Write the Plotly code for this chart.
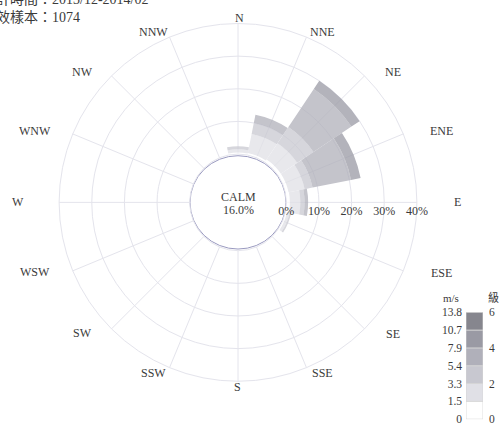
import plotly.graph_objects as go

W, H = 503, 431

# Wind directions (16 points) and wind-speed classes
directions = ['N', 'NNE', 'NE', 'ENE', 'E', 'ESE', 'SE', 'SSE',
              'S', 'SSW', 'SW', 'WSW', 'W', 'WNW', 'NW', 'NNW']
speed_edges = ['0', '1.5', '3.3', '5.4', '7.9', '10.7', '13.8']
beaufort_ticks = ['0', '2', '4', '6']
radial_ticks = [0, 10, 20, 30, 40]

# Frequency (%) of each speed class per direction
freq_00_15 = [0.5, 0.6, 1.0, 1.0, 1.1, 0.5, 0, 0, 0, 0, 0, 0, 0, 0, 0, 0]
freq_15_33 = [1.0, 6.0, 6.0, 5.0, 3.2, 0.8, 0, 0, 0, 0, 0, 0, 0, 0, 0, 0]
freq_33_54 = [0.9, 3.4, 6.0, 2.5, 1.3, 0.5, 0, 0, 0, 0, 0, 0, 0, 0, 0, 0]
freq_54_79 = [0, 2.6, 14.0, 12.0, 1.1, 0, 0, 0, 0, 0, 0, 0, 0, 0, 0, 0]
freq_79_107 = [0, 0, 3.0, 3.0, 0, 0, 0, 0, 0, 0, 0, 0, 0, 0, 0, 0]
freq_107_138 = [0, 0, 0, 0, 0, 0, 0, 0, 0, 0, 0, 0, 0, 0, 0, 0]
calm_pct = 16.0
sample_count = 1074
period = '2013/12-2014/02'

class_freqs = [freq_00_15, freq_15_33, freq_33_54, freq_54_79, freq_79_107, freq_107_138]
class_colors = ['#ffffff', '#e0e0e6', '#c8c8d0', '#b0b0ba', '#9a9aa4', '#86868e']

serif = 'Liberation Serif, Times New Roman, serif'
cjk = 'Liberation Serif, Noto Sans CJK TC, serif'
txt = '#3a3a3a'
grid = '#e4e4ec'


def px(x, y):
    return x / W, 1 - y / H


fig = go.Figure()

for i, vals in enumerate(class_freqs):
    fig.add_trace(go.Barpolar(
        r=vals, theta=directions,
        name=f'{speed_edges[i]}-{speed_edges[i + 1]}',
        marker=dict(color=class_colors[i], line=dict(width=0)),
        opacity=0.75, showlegend=False, hoverinfo='skip',
    ))

# Speed scale bar (one segment per class)
fig.add_trace(go.Bar(
    x=[0] * 6, y=[1] * 6, base=list(range(6)), width=1,
    marker=dict(color=class_colors, line=dict(color='#d6d6d6', width=0.8)),
    xaxis='x', yaxis='y', showlegend=False, hoverinfo='skip',
))
fig.add_trace(go.Scatter(
    x=[0], y=[0], xaxis='x', yaxis='y2', mode='markers',
    marker=dict(opacity=0), showlegend=False, hoverinfo='skip',
))

cx, cy, R = 238, 202, 184
fig.update_layout(
    width=W, height=H,
    margin=dict(l=0, r=0, t=0, b=0),
    paper_bgcolor='white',
    plot_bgcolor='rgba(0,0,0,0)',
    font=dict(family=serif, color=txt, size=12),
    polar=dict(
        domain=dict(x=[(cx - R) / W, (cx + R) / W],
                    y=[1 - (cy + R) / H, 1 - (cy - R) / H]),
        hole=0.27,
        bgcolor='rgba(0,0,0,0)',
        barmode='stack',
        bargap=0,
        angularaxis=dict(
            type='category', categoryarray=directions,
            rotation=90, direction='clockwise',
            showticklabels=False, ticks='',
            showline=True, linecolor=grid, linewidth=1,
            gridcolor=grid, gridwidth=1,
        ),
        radialaxis=dict(
            range=[0, 40], tickvals=radial_ticks,
            ticktext=[f'{v}%' for v in radial_ticks],
            angle=0, tickangle=0, showline=False, ticks='',
            gridcolor=grid, gridwidth=1,
            tickfont=dict(family=serif, size=12, color=txt),
        ),
    ),
    xaxis=dict(domain=[466 / W, 483 / W], range=[-0.5, 0.5], visible=False,
               fixedrange=True),
    yaxis=dict(domain=[1 - 425 / H, 1 - 315 / H], range=[0, 6], anchor='x',
               tickvals=list(range(7)), ticktext=speed_edges,
               showgrid=False, zeroline=False, showline=False, ticks='',
               ticklabelstandoff=3, ticklabeloverflow='allow',
               tickfont=dict(family=serif, size=11.5, color=txt)),
    yaxis2=dict(overlaying='y', side='right', anchor='x', range=[0, 6],
                tickvals=[0, 2, 4, 6], ticktext=beaufort_ticks,
                showgrid=False, zeroline=False, showline=False, ticks='',
                ticklabelstandoff=5, ticklabeloverflow='allow',
                tickfont=dict(family=serif, size=11.5, color=txt)),
)

# Calm circle in the middle of the rose, kept beneath the axis labels
fig.add_shape(type='circle', xref='paper', yref='paper', layer='below',
              x0=(cx - 48) / W, x1=(cx + 48) / W,
              y0=1 - (cy + 48) / H, y1=1 - (cy - 48) / H,
              fillcolor='white', line=dict(color='#9a9ac0', width=1))

annotations = []


def label(text, x, y, size=12, family=serif, xanchor='center'):
    ax, ay = px(x, y)
    annotations.append(dict(text=text, x=ax, y=ay, xref='paper', yref='paper',
                            showarrow=False, xanchor=xanchor, yanchor='middle',
                            font=dict(family=family, size=size, color=txt)))


label('CALM', cx, 196)
label(f'{calm_pct:.1f}%', cx, 210)

direction_pos = {
    'N': (239, 12), 'NNE': (322, 27), 'NE': (393, 68), 'ENE': (441, 129),
    'E': (457, 202), 'ESE': (441, 275), 'SE': (393, 337), 'SSE': (322, 377),
    'S': (237, 392), 'SSW': (153, 377), 'SW': (82, 336), 'WSW': (35, 274),
    'W': (18, 202), 'WNW': (35, 129), 'NW': (82, 68), 'NNW': (153, 27),
}
for d in directions:
    label(d, *direction_pos[d], size=12)

label('m/s', 451, 300, size=11)
label('級', 493, 300, size=11, family=cjk)

label(f'統計時間：{period}', -20, -7, size=14, family=cjk, xanchor='left')
label(f'有效樣本：{sample_count}', -20, 11, size=14, family=cjk, xanchor='left')

fig.update_layout(annotations=annotations)

fig.write_html('out.html')
